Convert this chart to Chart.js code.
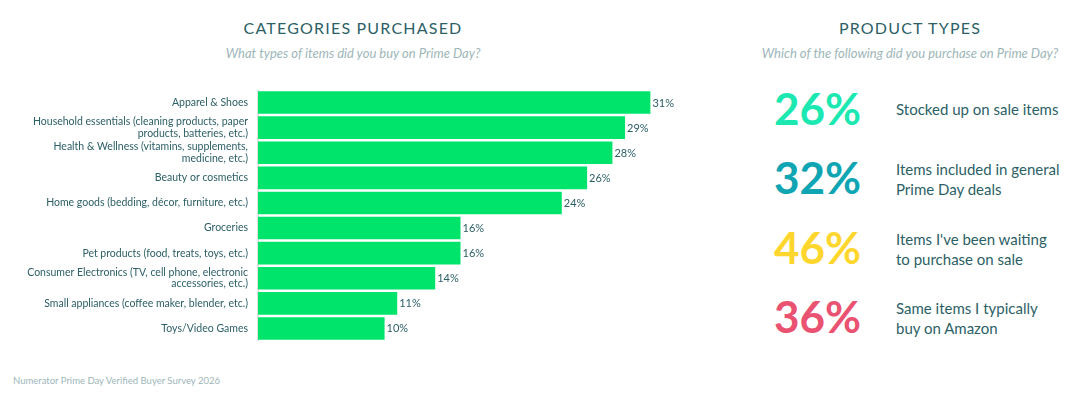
<!DOCTYPE html>
<html><head><meta charset="utf-8">
<script src="https://cdn.jsdelivr.net/npm/chart.js@4.4.1/dist/chart.umd.min.js"></script>
<style>
html,body{margin:0;padding:0;background:#fff;width:1080px;height:406px;overflow:hidden;font-family:Lato,"Open Sans",sans-serif;}
.abs{position:absolute;white-space:nowrap;}
.title{color:#2C5F66;font-size:16px;letter-spacing:1.2px;transform:translate(-50%,-50%);}
.sub{color:#9DB6B9;font-size:13px;font-style:italic;transform:translate(-50%,-50%);}
.big{font-weight:700;font-size:44px;transform:translate(0,-50%);line-height:1;}
.desc{color:#2C5F66;font-size:15px;line-height:19.5px;transform:translate(0,-50%);}
#wrap{position:absolute;left:0;top:90px;width:720px;height:251px;}
.foot{color:#9DB6B9;font-size:9.5px;transform:translate(0,-50%);}
</style></head><body>
<div class="abs title" style="left:353px;top:27px;">CATEGORIES PURCHASED</div>
<div class="abs sub" style="left:353px;top:53px;">What types of items did you buy on Prime Day?</div>
<div class="abs title" style="left:910px;top:27px;">PRODUCT TYPES</div>
<div class="abs sub" style="left:910px;top:53px;">Which of the following did you purchase on Prime Day?</div>
<div id="wrap"><canvas id="c"></canvas></div>
<div id="right"></div>
<div class="abs foot" style="left:13px;top:380px;">Numerator Prime Day Verified Buyer Survey 2026</div>
<script>
const categories = [
  "Apparel & Shoes",
  ["Household essentials (cleaning products, paper", "products, batteries, etc.)"],
  ["Health & Wellness (vitamins, supplements,", "medicine, etc.)"],
  "Beauty or cosmetics",
  "Home goods (bedding, décor, furniture, etc.)",
  "Groceries",
  "Pet products (food, treats, toys, etc.)",
  ["Consumer Electronics (TV, cell phone, electronic", "accessories, etc.)"],
  "Small appliances (coffee maker, blender, etc.)",
  "Toys/Video Games"
];
const categoryValues = [31, 29, 28, 26, 24, 16, 16, 14, 11, 10];

const productTypeValues = [26, 32, 46, 36];
const productTypeLabels = [
  ["Stocked up on sale items"],
  ["Items included in general", "Prime Day deals"],
  ["Items I've been waiting", "to purchase on sale"],
  ["Same items I typically", "buy on Amazon"]
];
const productTypeColors = ["#1CE8B2", "#10A5B3", "#FFD62E", "#EA5271"];

// right panel (text stats)
const right = document.getElementById('right');
const rowY = [108, 177, 247, 316];
productTypeValues.forEach((v, i) => {
  const n = document.createElement('div');
  n.className = 'abs big';
  n.style.left = '774px'; n.style.top = rowY[i] + 'px'; n.style.color = productTypeColors[i];
  n.textContent = v + '%';
  right.appendChild(n);
  const d = document.createElement('div');
  d.className = 'abs desc';
  d.style.left = '896px'; d.style.top = (rowY[i] + 2) + 'px';
  d.innerHTML = productTypeLabels[i].join('<br>');
  right.appendChild(d);
});

const valueLabels = {
  id: 'valueLabels',
  afterDatasetsDraw(chart) {
    const ctx = chart.ctx;
    const meta = chart.getDatasetMeta(0);
    ctx.save();
    ctx.font = '11px Lato, sans-serif';
    ctx.fillStyle = '#2C5F66';
    ctx.textAlign = 'left';
    ctx.textBaseline = 'middle';
    meta.data.forEach((bar, i) => {
      ctx.fillText(chart.data.datasets[0].data[i] + '%', bar.x + 2, bar.y + 0.5);
    });
    ctx.restore();
  }
};

new Chart(document.getElementById('c'), {
  type: 'bar',
  data: {
    labels: categories,
    datasets: [{
      data: categoryValues,
      backgroundColor: '#00E46C',
      borderWidth: 0,
      barPercentage: 0.9,
      categoryPercentage: 1.0
    }]
  },
  options: {
    indexAxis: 'y',
    responsive: true,
    maintainAspectRatio: false,
    animation: false,
    layout: { padding: { top: 0, bottom: 0, left: 0, right: 0 } },
    plugins: { legend: { display: false }, tooltip: { enabled: false } },
    scales: {
      x: { display: false, min: 0, max: 36.5 },
      y: {
        afterFit(scale) { scale.width = 258; scale.paddingTop = 0; scale.paddingBottom = 0; },
        grid: { display: false, drawTicks: false },
        border: { display: true, color: '#E2E2E2', width: 2 },
        ticks: {
          autoSkip: false,
          padding: 10,
          color: '#2C5F66',
          font: { family: 'Lato', size: 10.5, lineHeight: 1.1 },
          crossAlign: 'near'
        }
      }
    }
  },
  plugins: [valueLabels]
});
</script>
</body></html>
